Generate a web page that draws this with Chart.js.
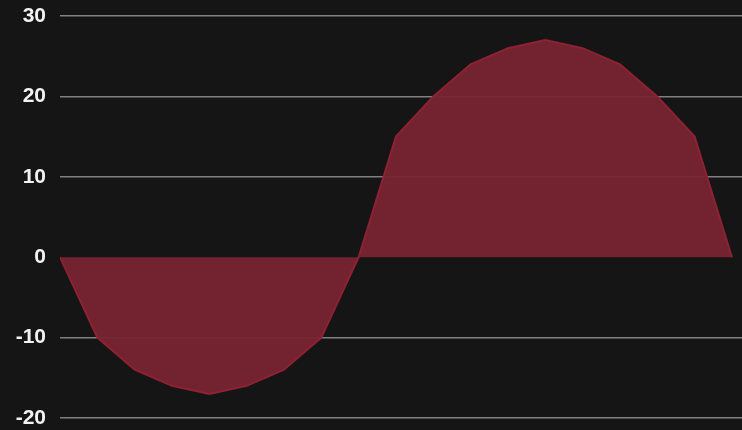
<!DOCTYPE html>
<html>
<head>
<meta charset="utf-8">
<script src="https://cdn.jsdelivr.net/npm/chart.js@4/dist/chart.umd.min.js"></script>
<style>
    html, body { margin: 0; padding: 0; background: #151515; }
    #wrap { width: 742px; height: 430px; }
</style>
</head>
<body>
<div id="wrap"><canvas id="waveChart"></canvas></div>
<script>
// Data
const steps = [0, 1, 2, 3, 4, 5, 6, 7, 8, 9, 10, 11, 12, 13, 14, 15, 16, 17, 18];
const values = [0, -10, -14, -16, -17, -16, -14, -10, 0, 15, 20, 24, 26, 27, 26, 24, 20, 15, 0];
const yTicks = [30, 20, 10, 0, -10, -20];

const ctx = document.getElementById('waveChart').getContext('2d');
new Chart(ctx, {
    type: 'line',
    data: {
        datasets: [{
            data: steps.map((s, i) => ({ x: s, y: values[i] })),
            borderColor: '#8e2234',
            backgroundColor: 'rgba(120, 36, 48, 0.95)',
            borderWidth: 2,
            pointRadius: 0,
            fill: 'origin',
            tension: 0
        }]
    },
    options: {
        responsive: true,
        maintainAspectRatio: false,
        animation: false,
        layout: { padding: { top: 16, right: 0, bottom: 12, left: 0 } },
        plugins: { legend: { display: false }, tooltip: { enabled: false } },
        scales: {
            x: {
                type: 'linear',
                display: false,
                min: 0,
                max: steps[steps.length - 1] + 0.27
            },
            y: {
                min: -20,
                max: 30,
                border: { display: false },
                afterFit: (scale) => {
                    scale.width = 60;
                    scale.paddingTop = 0;
                    scale.paddingBottom = 0;
                },
                afterBuildTicks: (scale) => { scale.ticks = yTicks.map(v => ({ value: v })); },
                grid: {
                    drawTicks: false,
                    lineWidth: 1.5,
                    color: (c) => c.tick && c.tick.value === 0 ? 'rgba(0,0,0,0)' : 'rgba(200, 200, 200, 0.6)'
                },
                ticks: {
                    color: '#f2f2f2',
                    padding: 14,
                    font: { family: 'Liberation Sans, Arial, sans-serif', size: 21, weight: 'bold' }
                }
            }
        }
    }
});
</script>
</body>
</html>
